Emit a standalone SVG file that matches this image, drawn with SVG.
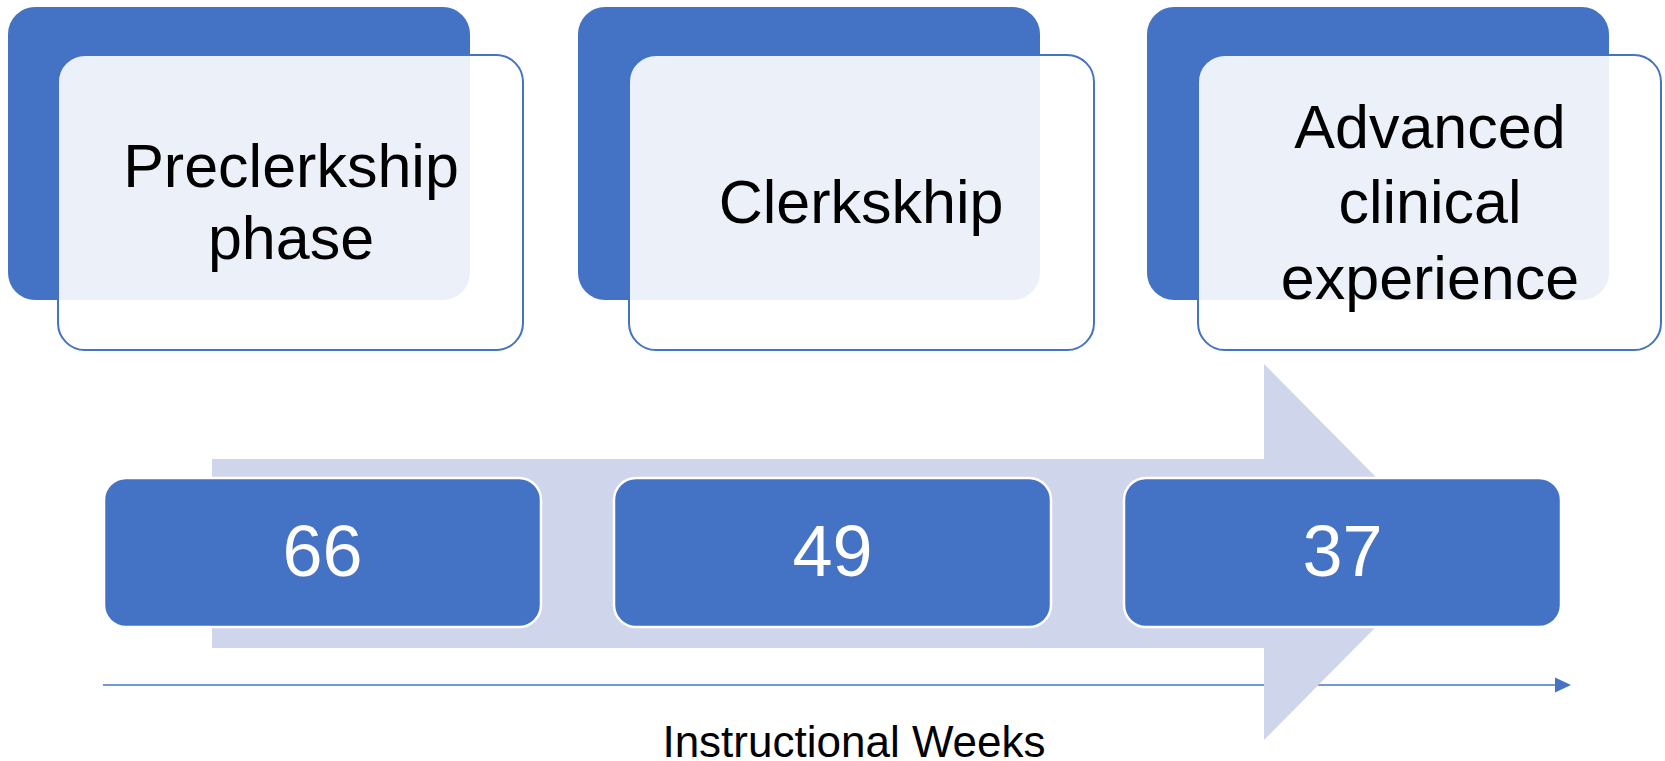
<svg xmlns="http://www.w3.org/2000/svg" width="1665" height="761" viewBox="0 0 1665 761">
  <defs>
    <style>
      .back { fill: #4472C4; }
      .front { fill: #FFFFFF; fill-opacity: 0.9; stroke: #4472C4; stroke-width: 2; }
      .phase { font-family: "Liberation Sans", Arial, sans-serif; font-size: 61px; fill: #000000; text-anchor: middle; }
      .num-box { fill: #4472C4; stroke: #FFFFFF; stroke-width: 2.5; }
      .num { font-family: "Liberation Sans", Arial, sans-serif; font-size: 72px; fill: #FFFFFF; text-anchor: middle; }
      .axis-label { font-family: "Liberation Sans", Arial, sans-serif; font-size: 44px; fill: #000000; text-anchor: middle; }
    </style>
    <marker id="axis-head" markerWidth="8" markerHeight="8" refX="8" refY="4" orient="auto" markerUnits="userSpaceOnUse" viewBox="0 0 8 8">
      <path d="M0,0 L8,4 L0,8 Z" fill="#4472C4"/>
    </marker>
  </defs>
  <rect width="1665" height="761" fill="#FFFFFF"/>

  <!-- time axis and progression arrow -->
  <g id="connectors">
    <line x1="103" y1="685" x2="1555" y2="685" stroke="#7398D7" stroke-width="2"/>
    <path d="M1555,677.5 L1571,685 L1555,692.5 Z" fill="#4472C4"/>
    <polygon points="212,459 1264,459 1264,364 1450,552 1264,740 1264,648 212,648" fill="#CFD5EA"/>
  </g>

  <!-- phase cards -->
  <g id="phase-preclerkship">
    <rect class="back" x="8" y="7" width="462" height="293" rx="27"/>
    <rect class="front" x="58" y="55" width="465" height="295" rx="27"/>
    <text class="phase" x="291" y="187">Preclerkship</text>
    <text class="phase" x="291" y="259">phase</text>
  </g>
  <g id="phase-clerkship">
    <rect class="back" x="578" y="7" width="462" height="293" rx="27"/>
    <rect class="front" x="629" y="55" width="465" height="295" rx="27"/>
    <text class="phase" x="861" y="223">Clerkskhip</text>
  </g>
  <g id="phase-advanced">
    <rect class="back" x="1147" y="7" width="462" height="293" rx="27"/>
    <rect class="front" x="1198" y="55" width="463" height="295" rx="27"/>
    <text class="phase" x="1430" y="148">Advanced</text>
    <text class="phase" x="1430" y="223">clinical</text>
    <text class="phase" x="1430" y="299">experience</text>
  </g>

  <!-- week counts -->
  <g id="weeks-preclerkship">
    <rect class="num-box" x="104" y="478" width="437" height="149" rx="22"/>
    <text class="num" x="322.5" y="576">66</text>
  </g>
  <g id="weeks-clerkship">
    <rect class="num-box" x="614" y="478" width="437" height="149" rx="22"/>
    <text class="num" x="832.5" y="576">49</text>
  </g>
  <g id="weeks-advanced">
    <rect class="num-box" x="1124" y="478" width="437" height="149" rx="22"/>
    <text class="num" x="1342.5" y="576">37</text>
  </g>

  <g id="axis-title">
    <text class="axis-label" x="854" y="757">Instructional Weeks</text>
  </g>
</svg>
